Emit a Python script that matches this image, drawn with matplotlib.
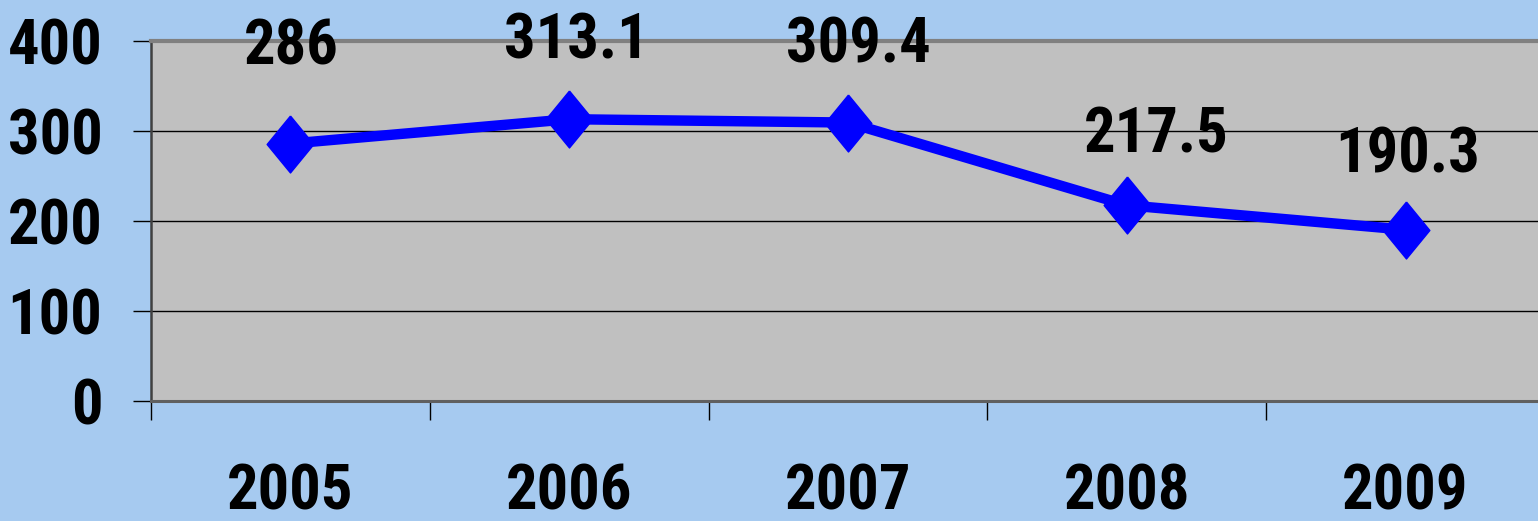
import matplotlib
matplotlib.use("Agg")
import matplotlib.pyplot as plt
import numpy as np
from matplotlib import font_manager

years = ["2005", "2006", "2007", "2008", "2009"]
values = [286, 313.1, 309.4, 217.5, 190.3]
labels = ["286", "313.1", "309.4", "217.5", "190.3"]
yticks = [0, 100, 200, 300, 400]

# label nudges in pixels (dx, dy) as placed on the original slide
label_offsets = [(1, 79), (7, 61), (10, 60), (29, 53), (2, 57)]

# narrow bold face, closest to Arial Narrow that is installed
names = {f.name for f in font_manager.fontManager.ttflist}
fam = "DejaVu Sans"
for cand in ["Liberation Sans Narrow", "Roboto Condensed", "Fira Sans Condensed", "Cabin Condensed"]:
    if cand in names:
        fam = cand
        break
plt.rcParams["font.family"] = [fam, "DejaVu Sans"]
plt.rcParams["font.weight"] = "bold"

W, H = 1538, 521
fig = plt.figure(figsize=(W / 100, H / 100), dpi=100, facecolor="#A6CAF0")
ax = fig.add_axes([151 / W, (H - 401) / H, (1545 - 151) / W, 360 / H])
ax.set_facecolor("#C0C0C0")

x = np.arange(len(years))
diamond = [(0, 1), (0.82, 0), (0, -1), (-0.82, 0), (0, 1)]
ax.plot(x, values, color="#0000FF", lw=7.5, marker=diamond, ms=41,
        mfc="#0000FF", mec="#0000FF", solid_joinstyle="miter", zorder=3, clip_on=False)

for xi, v, lab, (dx, dy) in zip(x, values, labels, label_offsets):
    ax.annotate(lab, (xi, v), xytext=(dx, dy), textcoords="offset pixels",
                ha="center", va="baseline", fontsize=45, fontweight="bold",
                annotation_clip=False, zorder=4)

ax.set_xlim(-0.5, len(years) - 0.5)
ax.set_ylim(0, 400)
ax.set_yticks(yticks)
ax.set_yticklabels([str(t) for t in yticks])
ax.yaxis.grid(True, color="black", lw=1)
ax.set_axisbelow(True)

ax.set_xticks(np.arange(len(years) + 1) - 0.5)
ax.set_xticklabels([])
ax.set_xticks(x, minor=True)
ax.set_xticklabels(years, minor=True)
ax.tick_params(axis="x", which="major", direction="out", length=14, width=1, color="black")
ax.tick_params(axis="x", which="minor", length=0, pad=44, labelsize=45)
ax.tick_params(axis="y", direction="out", length=13, width=1, color="black", pad=22, labelsize=45)

ax.spines["top"].set_color("#808080")
ax.spines["top"].set_linewidth(3)
ax.spines["bottom"].set_color("#606060")
ax.spines["bottom"].set_linewidth(2.2)
ax.spines["left"].set_color("#404040")
ax.spines["left"].set_linewidth(1.8)
ax.spines["right"].set_visible(False)

fig.savefig("out.png", dpi=100, facecolor=fig.get_facecolor())
